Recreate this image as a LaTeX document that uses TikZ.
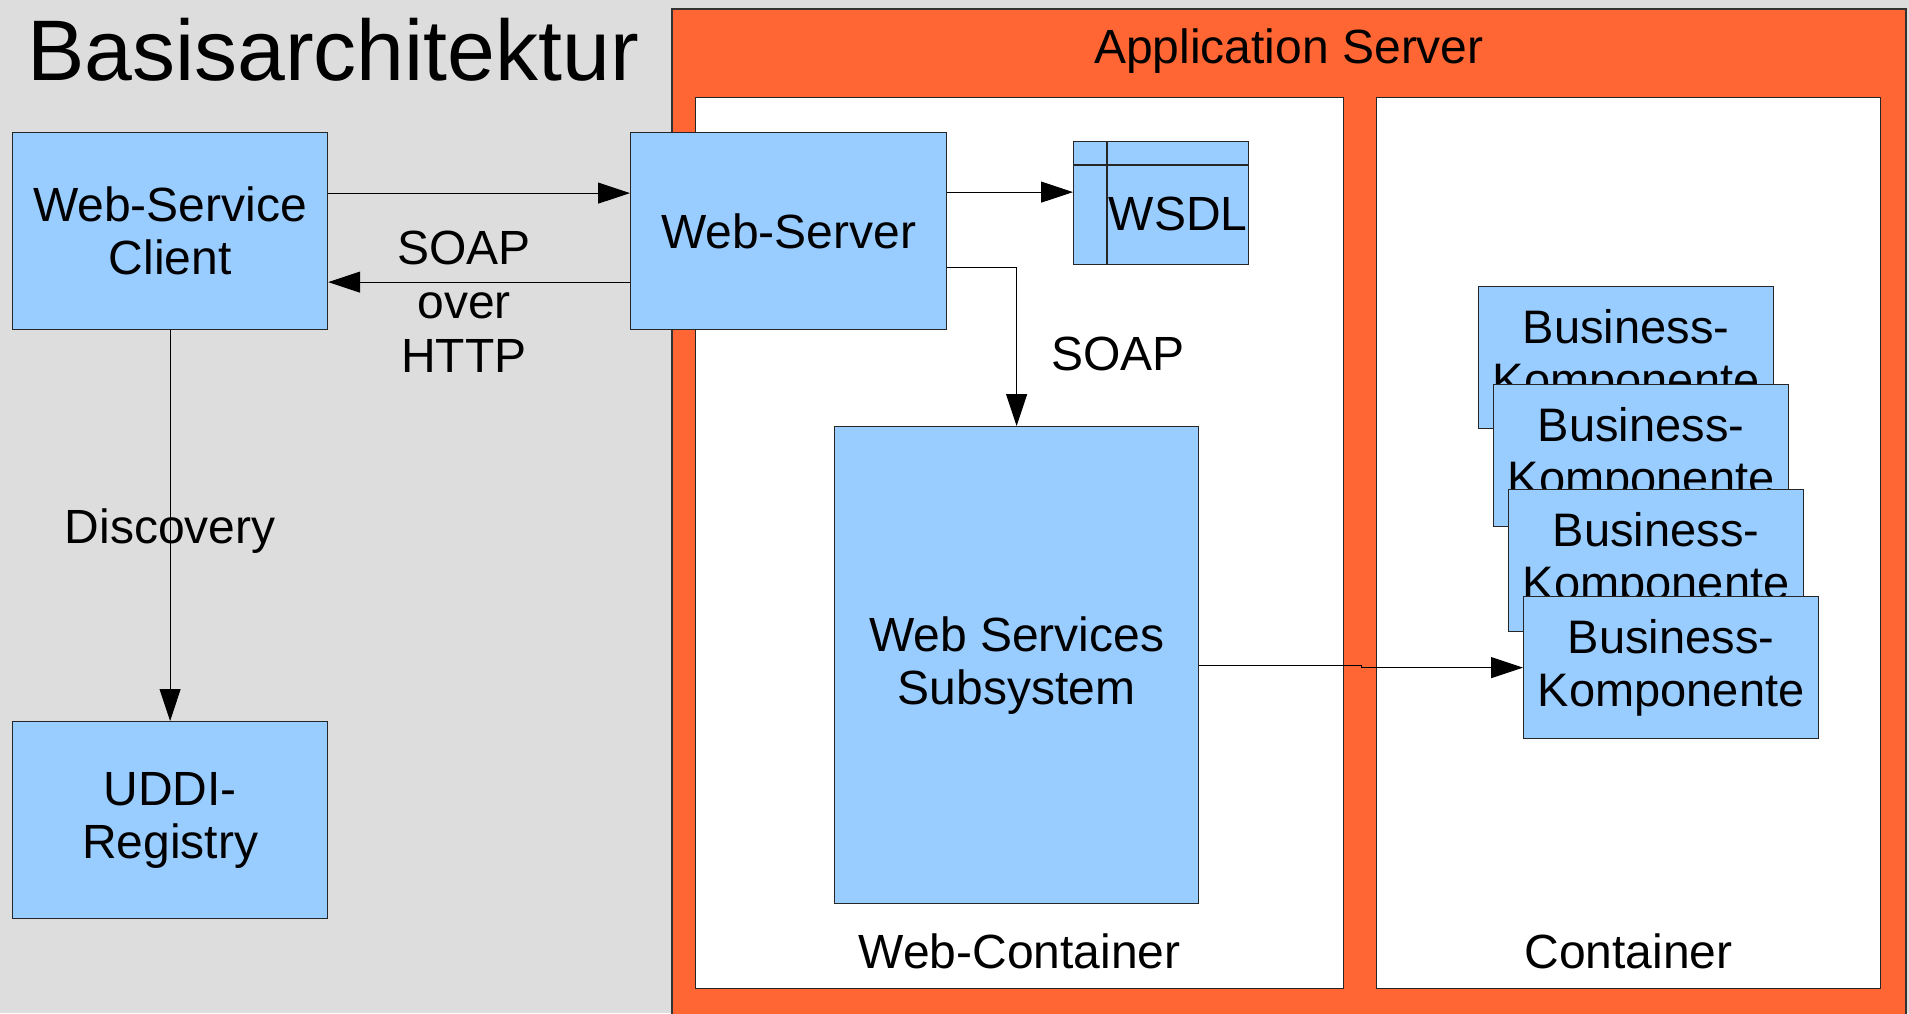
\documentclass[tikz,border=0pt]{standalone}
\usepackage{fontspec}
\setmainfont{Liberation Sans}
\usetikzlibrary{arrows.meta,positioning}
\definecolor{bgGray}{HTML}{DDDDDD}
\definecolor{appOrange}{HTML}{FF6633}
\definecolor{compBlue}{HTML}{99CCFF}
\begin{document}
\begin{tikzpicture}[x=1pt,y=-1pt,
	comp/.style={draw=black!85,line width=1.2pt,fill=compBlue,inner sep=0pt,anchor=north west,align=center,font=\fontsize{48}{53}\selectfont},
	cont/.style={draw=black!85,line width=1.2pt,fill=white,inner sep=0pt,anchor=north west},
	link/.style={draw=black,line width=1pt,-{Triangle[length=32pt,width=21pt]}},
	lbl/.style={inner sep=0pt,align=center,font=\fontsize{48}{54}\selectfont}]
	\useasboundingbox (0,0) rectangle (1909,1013);
	\fill[bgGray] (0,0) rectangle (1909,1013);
	\node[anchor=base west,inner sep=0pt,font=\fontsize{86}{100}\selectfont] (title) at (27,80) {Basisarchitektur};

	% application server with its two containers
	\draw[fill=appOrange,draw=black!80,line width=1.3pt] (672,9) rectangle (1906,1030);
	\node[lbl,anchor=base] (appserver) at (1289,63) {Application Server};
	\node[cont,minimum width=648pt,minimum height=891pt] (webcont) at (695,97) {};
	\node[cont,minimum width=504pt,minimum height=891pt] (buscont) at (1376,97) {};
	\node[lbl,above=20pt of webcont.south] {Web-Container};
	\node[lbl,above=20pt of buscont.south] {Container};

	\node[comp,minimum width=315pt,minimum height=197pt] (client) at (12,132) {Web-Service\\Client};
	\node[comp,minimum width=315pt,minimum height=197pt] (uddi) at (12,721) {UDDI-\\Registry};
	\node[comp,minimum width=316pt,minimum height=197pt] (ws) at (630,132) {Web-Server};
	\node[comp,minimum width=364pt,minimum height=477pt] (wss) at (834,426) {Web Services\\Subsystem};

	\node[comp,minimum width=175pt,minimum height=123pt] (wsdl) at (1073,141) {};
	\draw[black!85,line width=1.2pt] ([xshift=34pt]wsdl.north west) -- ([xshift=34pt]wsdl.south west)
		([yshift=-24pt]wsdl.north west) -- ([yshift=-24pt]wsdl.north east);
	\node[lbl] at ([xshift=17pt,yshift=-11pt]wsdl.center) {WSDL};

	\foreach \x/\y [count=\n] in {1478/286,1493/384,1508/489,1523/596}
		\node[comp,minimum width=295pt,minimum height=142pt,font=\fontsize{47}{53}\selectfont] (bk\n) at (\x,\y) {Business-\\Komponente};

	% connectors
	\draw[link] ([yshift=38pt]client.east) -- ([yshift=38pt]ws.west);
	\draw[link] ([yshift=-51pt]ws.west) -- ([yshift=-51pt]client.east);
	\node[lbl] (soaphttp) at (464,302) {SOAP\\over\\HTTP};
	\draw[link] (client) -- node[lbl,yshift=-5pt]{Discovery} (uddi);
	\coordinate (wsout) at ([yshift=39pt]ws.east);
	\draw[link] (wsout) -- (wsout -| wsdl.west);
	\draw[link] ([yshift=-36pt]ws.east) -| (wss.north);
	\node[lbl] (soap) at (1118,354) {SOAP};
	\draw[link] (wss.east) -- ++(162,0) |- (bk4.west);
\end{tikzpicture}
\end{document}
